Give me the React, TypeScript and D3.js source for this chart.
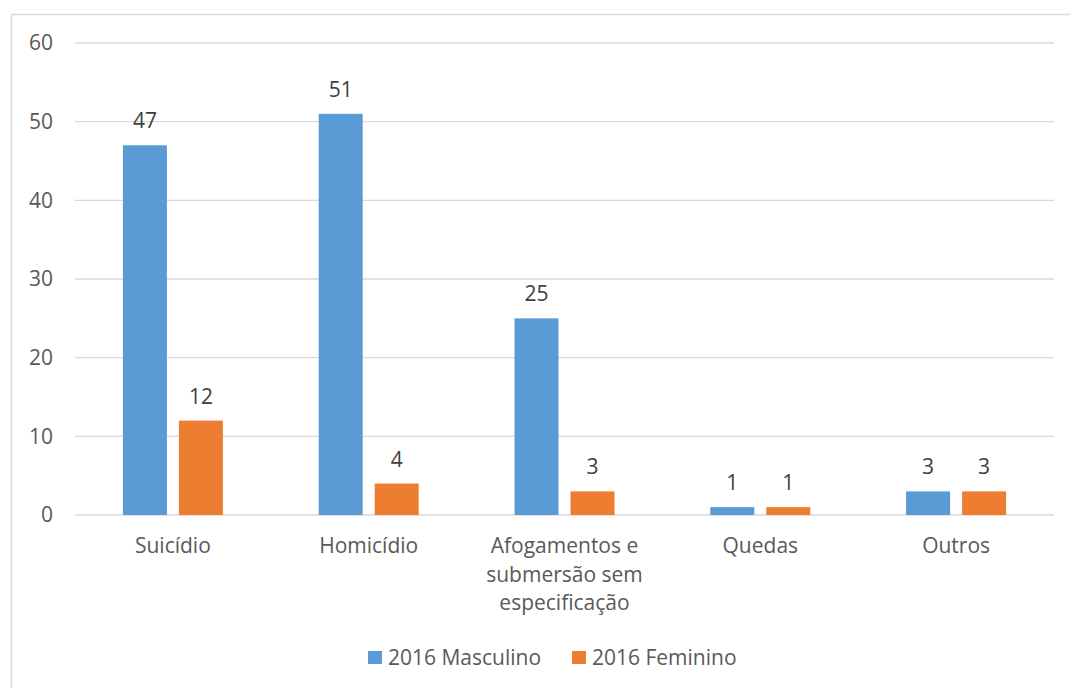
import React, { useEffect, useRef } from 'react'
import * as d3 from 'd3'

const categories = [
  'Suicídio',
  'Homicídio',
  'Afogamentos e|submersão sem|especificação',
  'Quedas',
  'Outros'
]
const seriesNames = ['2016 Masculino', '2016 Feminino']
const masculino = [47, 51, 25, 1, 3]
const feminino = [12, 4, 3, 1, 3]
const yTicks = [0, 10, 20, 30, 40, 50, 60]

const colors = ['#5B9BD5', '#ED7D31']
const font = "'Open Sans', 'Noto Sans', sans-serif"
const fontSize = '21px'

const App = () => {
  const ref = useRef<SVGSVGElement | null>(null)

  useEffect(() => {
    const svg = d3.select(ref.current)
    svg.selectAll('*').remove()

    const margin = { top: 43, right: 16, bottom: 173, left: 75 }
    const width = 1070, height = 688
    const plotW = width - margin.left - margin.right
    const plotH = height - margin.top - margin.bottom

    // chart border
    svg.append('rect')
      .attr('x', 11.5).attr('y', 14.5)
      .attr('width', 1080).attr('height', 700)
      .attr('fill', '#fff')
      .attr('stroke', '#D9D9D9')
      .attr('stroke-width', 1.5)

    const g = svg.append('g')
      .attr('transform', `translate(${margin.left},${margin.top})`)

    const x0 = d3.scaleBand().domain(categories).range([0, plotW]).padding(0)
    const inner = (x0.bandwidth() - 100) / 2
    const x1 = d3.scaleBand()
      .domain(seriesNames)
      .range([inner, inner + 100])
      .paddingInner(0.214)
      .paddingOuter(0)
    const y = d3.scaleLinear().domain([0, 60]).range([plotH, 0])

    // gridlines
    g.selectAll('.grid')
      .data(yTicks)
      .enter().append('line')
      .attr('x1', 0).attr('x2', plotW)
      .attr('y1', d => y(d)).attr('y2', d => y(d))
      .attr('stroke', '#D9D9D9')
      .attr('stroke-width', 1.3)

    // y tick labels
    g.selectAll('.ytick')
      .data(yTicks)
      .enter().append('text')
      .attr('x', -22)
      .attr('y', d => y(d))
      .attr('dy', '0.35em')
      .attr('text-anchor', 'end')
      .attr('fill', '#595959')
      .style('font-family', font)
      .style('font-size', fontSize)
      .text(d => d)

    const series = [masculino, feminino]
    series.forEach((vals, si) => {
      const name = seriesNames[si]
      g.selectAll(`.bar${si}`)
        .data(vals)
        .enter().append('rect')
        .attr('x', (d, i) => (x0(categories[i]) as number) + (x1(name) as number))
        .attr('width', x1.bandwidth())
        .attr('y', d => y(d))
        .attr('height', d => plotH - y(d))
        .attr('fill', colors[si])

      g.selectAll(`.label${si}`)
        .data(vals)
        .enter().append('text')
        .attr('x', (d, i) => (x0(categories[i]) as number) + (x1(name) as number) + x1.bandwidth() / 2)
        .attr('y', d => y(d) - 17)
        .attr('text-anchor', 'middle')
        .attr('fill', '#404040')
        .style('font-family', font)
        .style('font-size', fontSize)
        .text(d => d)
    })

    // category labels
    categories.forEach(c => {
      const lines = c.split('|')
      const t = g.append('text')
        .attr('x', (x0(c) as number) + x0.bandwidth() / 2)
        .attr('y', plotH + 38)
        .attr('text-anchor', 'middle')
        .attr('fill', '#595959')
        .style('font-family', font)
        .style('font-size', fontSize)
      lines.forEach((l, i) => {
        t.append('tspan')
          .attr('x', (x0(c) as number) + x0.bandwidth() / 2)
          .attr('dy', i === 0 ? 0 : 28.5)
          .text(l)
      })
    })

    // legend
    const legendX = [368, 572]
    seriesNames.forEach((s, i) => {
      svg.append('rect')
        .attr('x', legendX[i]).attr('y', 651)
        .attr('width', 14).attr('height', 13)
        .attr('fill', colors[i])
      svg.append('text')
        .attr('x', legendX[i] + 20)
        .attr('y', 665)
        .attr('fill', '#595959')
        .style('font-family', font)
        .style('font-size', fontSize)
        .text(s)
    })
  }, [])

  return (
    <div style={{ position: 'absolute', left: 0, top: 0 }}>
      <svg ref={ref} width={1070} height={688} style={{ display: 'block', background: '#fff' }} />
    </div>
  )
}

export default App
